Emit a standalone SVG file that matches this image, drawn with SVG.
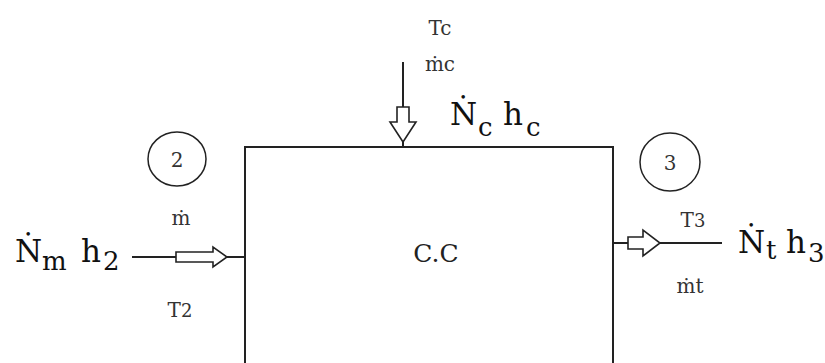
<svg xmlns="http://www.w3.org/2000/svg" width="825" height="363" viewBox="0 0 825 363">
<style>
text{font-family:"DejaVu Serif","Liberation Serif",serif}
.big{font-size:31px;fill:#111}
.sub{font-size:26px;fill:#111}
.cc{font-size:25px;fill:#222}
.sm{font-size:20px;fill:#333}
.ln{stroke:#222;stroke-width:2;fill:none}
.ha{stroke:#222;stroke-width:1.6;fill:#fff;stroke-linejoin:miter}
.circ{stroke:#222;stroke-width:1.5;fill:none}
</style>
<rect width="825" height="363" fill="#fff"/>
<g id="cc">
<path class="ln" d="M245,363 V147 H613 V363"/>
<text class="cc" x="436" y="262" text-anchor="middle">C.C</text>
</g>
<g id="state2">
<ellipse class="circ" cx="177" cy="159" rx="29" ry="27"/>
<text class="sm" x="177" y="167" text-anchor="middle">2</text>
</g>
<g id="state3">
<ellipse class="circ" cx="670" cy="162" rx="30" ry="29"/>
<text class="sm" x="670" y="170" text-anchor="middle">3</text>
</g>
<g id="inlet-label">
<text class="big" x="15" y="262">Ṅ</text>
<text class="sub" x="42" y="270">m</text>
<text class="big" x="81" y="262">h</text>
<text class="sub" x="103" y="270">2</text>
<text class="sm" x="181" y="225" text-anchor="middle">ṁ</text>
<text class="sm" x="180" y="317" text-anchor="middle">T<tspan font-size="18">2</tspan></text>
</g>
<g id="fuel-label">
<text class="sm" x="440" y="35" text-anchor="middle">Tc</text>
<text class="sm" x="440" y="71" text-anchor="middle">ṁc</text>
<text class="big" x="450" y="125">Ṅ</text>
<text class="sub" x="478" y="136">c</text>
<text class="big" x="503" y="125">h</text>
<text class="sub" x="526" y="136">c</text>
</g>
<g id="outlet-label">
<text class="sm" x="693" y="227" text-anchor="middle">T<tspan font-size="18">3</tspan></text>
<text class="sm" x="690" y="293" text-anchor="middle">ṁt</text>
<text class="big" x="738" y="253">Ṅ</text>
<text class="sub" x="766" y="259">t</text>
<text class="big" x="786" y="253">h</text>
<text class="sub" x="808" y="262">3</text>
</g>
<g id="connectors">
<line class="ln" x1="132" y1="257" x2="245" y2="257"/>
<path class="ha" d="M176,252 H213 V247 L227,257 L213,267 V262 H176 Z"/>
<line class="ln" x1="403" y1="62" x2="403" y2="147"/>
<path class="ha" d="M397,107 H409 V122 H416 L403,142 L390,122 H397 Z"/>
<line class="ln" x1="613" y1="243" x2="722" y2="243"/>
<path class="ha" d="M628,237 H643 V230 L660,243 L643,256 V249 H628 Z"/>
</g>
</svg>
